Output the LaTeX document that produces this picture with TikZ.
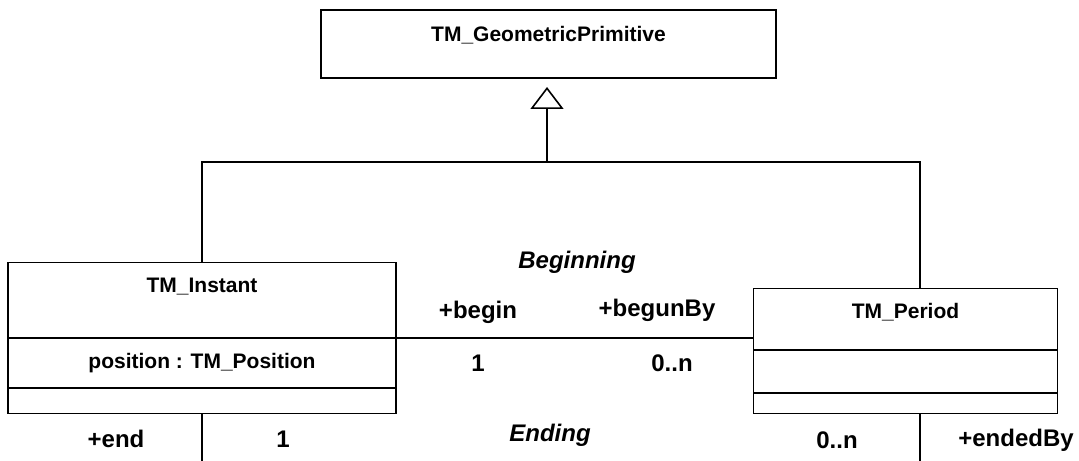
\documentclass[tikz,border=0pt]{standalone}
\usepackage{fontspec}
\setmainfont{Liberation Sans}
\usetikzlibrary{arrows.meta}
\begin{document}
\begin{tikzpicture}[x=1bp,y=-1bp,
  lw/.style={line width=1.8bp},
  classbox/.style={draw, lw, rectangle, inner sep=0pt},
  txt/.style={inner sep=0pt, font=\fontsize{21bp}{25bp}\selectfont\bfseries},
  atxt/.style={inner sep=0pt, font=\fontsize{24bp}{28bp}\selectfont\bfseries},
  itxt/.style={inner sep=0pt, font=\fontsize{24bp}{28bp}\selectfont\bfseries\itshape},
  gen/.style={lw, -{Triangle[open, length=22bp, width=33bp, line width=1.6bp]}},
  assoc/.style={lw}]
\useasboundingbox (0,0) rectangle (1079,461);
% classes
\node[classbox, minimum width=455bp, minimum height=68bp] (gp) at (548.5,44) {};
\node[txt] (gpname) at (548.5,35) {TM\_GeometricPrimitive};
\node[classbox, minimum width=388bp, minimum height=151bp] (inst) at (202,338) {};
\node[txt] (instname) at (202,287) {TM\_Instant};
\node[txt] (instattr) at (202,363) {position : TM\_Position};
\draw[lw] (8,338) -- (396,338);
\draw[lw] (8,388) -- (396,388);
\node[classbox, minimum width=304bp, minimum height=125bp] (per) at (905.5,351) {};
\node[txt] (pername) at (905.5,312) {TM\_Period};
\draw[lw] (753.5,350) -- (1057.5,350);
\draw[lw] (753.5,393) -- (1057.5,393);
% generalization
\coordinate (tip) at (547,87);
\coordinate (junc) at (547,162);
\coordinate (jl) at (202,162);
\coordinate (jr) at (920,162);
\draw[gen] (junc) -- (tip);
\draw[lw] (inst.north) -- (jl) -- (jr) -- (per.north -| jr);
% association Beginning
\draw[assoc] (inst.east |- 0,338) -- (per.west |- 0,338);
\node[itxt] (beg) at (577,262) {Beginning};
\node[atxt] (rb1) at (478,312) {+begin};
\node[atxt] (rb2) at (657,310) {+begunBy};
\node[atxt] (mb1) at (478,363) {1};
\node[atxt] (mb2) at (672,363) {0..n};
% association Ending
\coordinate (el) at (202,461);
\coordinate (er) at (920,461);
\draw[assoc] (inst.south) -- (el);
\draw[assoc] (per.south -| er) -- (er);
\node[itxt] (end) at (550,435) {Ending};
\node[atxt] (re1) at (116,439) {+end};
\node[atxt] (me1) at (283,439) {1};
\node[atxt] (me2) at (837,440) {0..n};
\node[atxt] (re2) at (1016,440) {+endedBy};
\end{tikzpicture}
\end{document}
